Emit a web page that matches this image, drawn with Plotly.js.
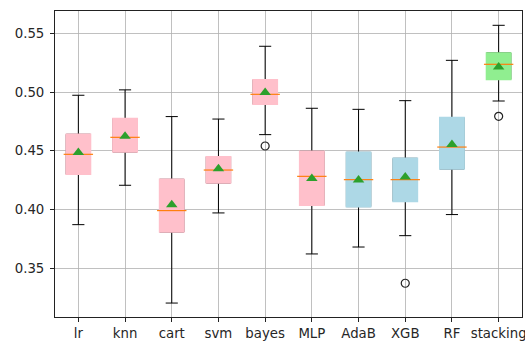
<!DOCTYPE html>
<html>
<head>
<meta charset="utf-8">
<script src="https://cdn.plot.ly/plotly-3.0.1.min.js"></script>
<style>html,body{margin:0;padding:0;background:#fff;}#chart{width:525px;height:342px;}</style>
</head>
<body>
<div id="chart"></div>
<script>
const labels = ['lr','knn','cart','svm','bayes','MLP','AdaB','XGB','RF','stacking'];
const lowerWhisker = [0.387, 0.4206, 0.3201, 0.397, 0.4638, 0.362, 0.3679, 0.3776, 0.3956, 0.4925];
const q1Vals       = [0.430, 0.449, 0.3807, 0.4225, 0.4897, 0.4035, 0.4024, 0.4069, 0.4345, 0.511];
const medianVals   = [0.447, 0.4615, 0.399, 0.4336, 0.4982, 0.4282, 0.4254, 0.4254, 0.4532, 0.5238];
const q3Vals       = [0.4641, 0.4775, 0.4257, 0.445, 0.5107, 0.4496, 0.4487, 0.4436, 0.4783, 0.5335];
const upperWhisker = [0.4974, 0.502, 0.4792, 0.4771, 0.5392, 0.4863, 0.4854, 0.4928, 0.5272, 0.5571];
const meanVals     = [0.4485, 0.4624, 0.404, 0.4348, 0.4997, 0.4263, 0.4252, 0.4276, 0.4553, 0.5215];
const outlierLabels = ['bayes','XGB','stacking'];
const outlierVals   = [0.4541, 0.337, 0.4794];
const boxColors = ['pink','pink','pink','pink','pink','pink','lightblue','lightblue','lightblue','lightgreen'];

const boxW = 0.52;
const traces = [];
// whiskers + caps (black)
traces.push({
  type: 'box', x: labels, q1: q1Vals, median: medianVals, q3: q3Vals,
  lowerfence: lowerWhisker, upperfence: upperWhisker,
  line: {color: '#000', width: 1}, fillcolor: 'rgba(0,0,0,0)',
  whiskerwidth: 0.5, width: boxW, boxpoints: false, hoverinfo: 'skip', showlegend: false
});
// filled boxes covering black box outline
labels.forEach((lab, i) => {
  traces.push({
    type: 'box', x: [lab], q1: [q1Vals[i]], median: [medianVals[i]], q3: [q3Vals[i]],
    lowerfence: [q1Vals[i]], upperfence: [q3Vals[i]],
    line: {color: boxColors[i], width: 1.6}, fillcolor: boxColors[i],
    whiskerwidth: 0, width: boxW, boxpoints: false, hoverinfo: 'skip', showlegend: false
  });
});
// medians
traces.push({
  type: 'scatter', mode: 'markers', x: labels, y: medianVals,
  marker: {symbol: 'line-ew', size: 21, line: {color: '#ff7f0e', width: 1.2}},
  hoverinfo: 'skip', showlegend: false
});
// means
traces.push({
  type: 'scatter', mode: 'markers', x: labels, y: meanVals,
  marker: {symbol: 'triangle-up', size: 10, color: '#2ca02c'},
  hoverinfo: 'skip', showlegend: false
});
// outliers
traces.push({
  type: 'scatter', mode: 'markers', x: outlierLabels, y: outlierVals,
  marker: {symbol: 'circle-open', size: 8, color: '#222', line: {width: 1.2}},
  hoverinfo: 'skip', showlegend: false
});

const layout = {
  width: 525, height: 342,
  margin: {l: 55, r: 3, t: 11, b: 25},
  paper_bgcolor: '#fff', plot_bgcolor: '#fff',
  boxmode: 'overlay', showlegend: false,
  font: {family: 'DejaVu Sans', size: 13.3, color: '#262626'},
  xaxis: {
    type: 'category', range: [-0.5, 9.5],
    showgrid: true, gridcolor: '#b0b0b0', gridwidth: 0.8,
    showline: true, mirror: true, linecolor: '#222', linewidth: 1,
    ticks: 'outside', ticklen: 4, tickcolor: '#222', zeroline: false
  },
  yaxis: {
    range: [0.3082, 0.5693], tickvals: [0.35, 0.40, 0.45, 0.50, 0.55], tickformat: '.2f',
    showgrid: true, gridcolor: '#b0b0b0', gridwidth: 0.8,
    showline: true, mirror: true, linecolor: '#222', linewidth: 1,
    ticks: 'outside', ticklen: 4, tickcolor: '#222', zeroline: false,
    ticklabelstandoff: 3
  }
};
Plotly.newPlot('chart', traces, layout, {staticPlot: true, displayModeBar: false});
</script>
</body>
</html>
